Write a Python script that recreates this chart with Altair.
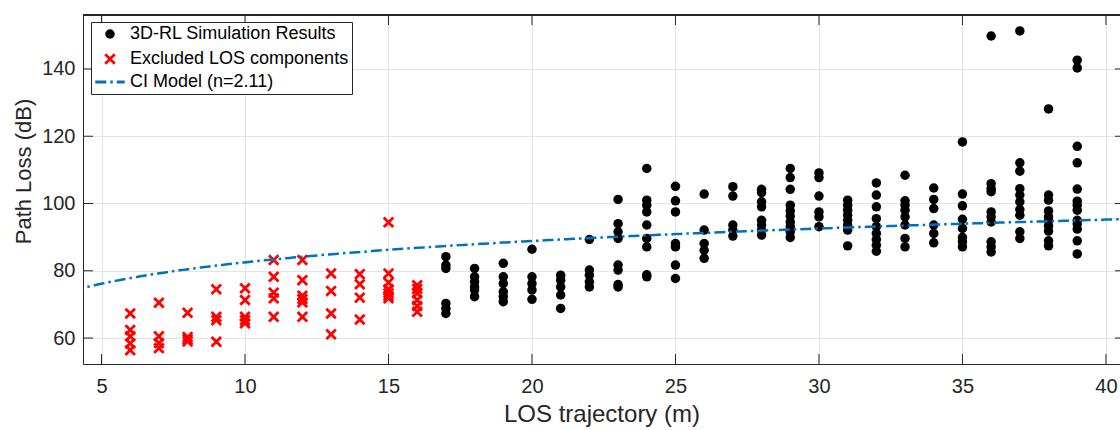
import altair as alt
import numpy as np
import pandas as pd

# --- 3D ray-launching simulation: path loss samples per LOS distance -------
sim_distances = list(range(17, 40))
sim_path_loss = [
    [84.2, 81.7, 80.7, 70.3, 68.8, 67.3],                                   # 17 m
    [80.7, 78.2, 76.7, 75.2, 74.3, 72.3],                                   # 18 m
    [82.2, 78.2, 76.2, 73.7, 72.3, 70.8],                                   # 19 m
    [86.4, 78.2, 76.2, 74.3, 71.5],                                         # 20 m
    [78.7, 77.2, 75.2, 72.8, 68.8],                                         # 21 m
    [89.3, 80.2, 78.7, 76.7, 75.2],                                         # 22 m
    [101.2, 94.0, 91.6, 89.6, 81.7, 80.2, 75.9, 75.2],                      # 23 m
    [110.4, 101.0, 99.5, 97.5, 93.6, 89.6, 87.1, 78.8, 78.2],               # 24 m
    [105.1, 100.8, 97.5, 88.1, 87.1, 81.7, 77.7],                           # 25 m
    [102.8, 92.1, 88.1, 86.1, 83.7],                                        # 26 m
    [105.0, 102.2, 93.6, 92.1, 90.3],                                       # 27 m
    [104.2, 103.2, 100.5, 99.0, 95.0, 93.6, 92.1, 90.6],                    # 28 m
    [110.4, 107.7, 104.2, 99.5, 97.8, 96.2, 94.5, 93.1, 91.6, 89.9],        # 29 m
    [109.1, 107.7, 102.2, 97.5, 96.0, 93.1],                                # 30 m
    [101.0, 99.5, 98.0, 96.5, 95.0, 93.6, 92.1, 87.4],                      # 31 m
    [106.1, 102.5, 99.0, 95.5, 93.1, 91.1, 89.3, 87.6, 85.8],               # 32 m
    [108.4, 100.8, 99.5, 98.0, 96.0, 93.6, 89.6, 87.1],                     # 33 m
    [104.6, 101.2, 98.5, 93.6, 91.1, 88.3],                                 # 34 m
    [118.3, 102.8, 99.3, 95.3, 92.6, 89.9, 88.6, 87.1],                     # 35 m
    [149.8, 105.9, 104.4, 103.5, 97.5, 96.0, 94.5, 88.6, 87.1, 85.6],       # 36 m
    [151.3, 112.1, 109.6, 104.4, 102.5, 100.5, 98.2, 96.5, 91.6, 89.6],     # 37 m
    [128.1, 102.5, 101.0, 97.8, 96.0, 94.8, 93.3, 91.8, 88.9, 87.4],        # 38 m
    [142.6, 140.3, 117.0, 112.1, 104.3, 100.7, 99.5, 98.0, 95.0, 93.9,
     92.4, 88.9, 85.0],                                                     # 39 m
]

# --- LOS components left out of the fit -------------------------------------
excl_distances = list(range(6, 17))
excl_path_loss = [
    [67.3, 62.4, 60.5, 58.4, 56.4],                   # 6 m
    [70.5, 60.5, 58.5, 57.0],                         # 7 m
    [67.5, 60.3, 59.6, 59.0],                         # 8 m
    [74.5, 66.3, 65.3, 58.9],                         # 9 m
    [74.8, 71.3, 66.3, 65.3, 64.4],                   # 10 m
    [83.2, 78.2, 73.5, 71.8, 66.3],                   # 11 m
    [83.2, 77.2, 72.6, 71.6, 70.6, 66.3],             # 12 m
    [79.2, 74.0, 67.3, 61.1],                         # 13 m
    [79.0, 76.0, 72.0, 65.5],                         # 14 m
    [94.4, 79.2, 76.5, 74.5, 73.3, 72.5, 71.8],       # 15 m
    [75.7, 74.6, 73.3, 71.3, 69.5, 67.8],             # 16 m
]

# --- close-in (CI) reference-distance model ---------------------------------
fspl_1m = 61.4      # free-space path loss at 1 m (dB)
ple_n = 2.11        # path loss exponent

x_ticks = [5, 10, 15, 20, 25, 30, 35, 40]
y_ticks = [60, 80, 100, 120, 140]

series_names = ["3D-RL Simulation Results", "Excluded LOS components",
                f"CI Model (n={ple_n})"]
series_fill = ["#000000", "transparent", "transparent"]
series_stroke = ["transparent", "#ff0000", "#0072bd"]
series_shape = ["circle", "M-1,-1L1,1M-1,1L1,-1", "M-3.1,0L3.1,0"]
ci_dash = [11, 4, 2.5, 4]
series_dash = [[1, 0], [1, 0], ci_dash]

W, H = 1037, 349
X_DOMAIN = [4.355, 40.49]
Y_DOMAIN = [52.28, 156.04]
INK = "#262626"
FONT = "Liberation Sans"

# ---------------------------------------------------------------------------
rows = []
for d, vals in zip(sim_distances, sim_path_loss):
    rows += [{"d": d, "pl": v, "series": series_names[0]} for v in vals]
for d, vals in zip(excl_distances, excl_path_loss):
    rows += [{"d": d, "pl": v, "series": series_names[1]} for v in vals]
points = pd.DataFrame(rows)

d_grid = np.linspace(4.0, 41.0, 300)
model = pd.DataFrame({"d": d_grid, "pl": fspl_1m + 10 * ple_n * np.log10(d_grid)})

xs = alt.Scale(domain=X_DOMAIN, nice=False, zero=False)
ys = alt.Scale(domain=Y_DOMAIN, nice=False, zero=False)

legend = alt.Legend(
    title=None, orient="none", legendX=8, legendY=7,
    padding=3, rowPadding=3, labelFontSize=18, labelFont=FONT,
    labelColor="#000000", strokeColor=INK, fillColor="white",
    symbolSize=90, symbolStrokeWidth=2.8, labelOffset=11, symbolOffset=7,
    cornerRadius=0, labelLimit=400,
)

x_axis = alt.Axis(
    values=x_ticks, format="d", title="LOS trajectory (m)",
    labelFontSize=20, labelFont=FONT, labelColor=INK, labelPadding=12,
    ticks=False, tickSize=0, domainColor=INK, domainWidth=1,
    grid=True, gridColor="#e3e3e3", gridWidth=1,
    titleFontSize=24, titleFont=FONT, titleFontWeight="normal",
    titleColor=INK, titlePadding=6,
)
y_axis = alt.Axis(
    values=y_ticks, format="d", title="Path Loss (dB)",
    labelFontSize=20, labelFont=FONT, labelColor=INK, labelPadding=8,
    ticks=False, tickSize=0, domainColor=INK, domainWidth=1,
    grid=True, gridColor="#e3e3e3", gridWidth=1,
    titleFontSize=22, titleFont=FONT, titleFontWeight="normal",
    titleColor=INK, titleX=-60, titleY=156, titleAngle=-90,
    titleBaseline="middle", titleAlign="center",
)

scatter = alt.Chart(points).mark_point(
    filled=True, opacity=1, size=90, strokeWidth=2.8
).encode(
    x=alt.X("d:Q", scale=xs, axis=x_axis),
    y=alt.Y("pl:Q", scale=ys, axis=y_axis),
    fill=alt.Fill("series:N", scale=alt.Scale(domain=series_names, range=series_fill), legend=legend),
    stroke=alt.Stroke("series:N", scale=alt.Scale(domain=series_names, range=series_stroke), legend=legend),
    shape=alt.Shape("series:N", scale=alt.Scale(domain=series_names, range=series_shape), legend=legend),
    strokeDash=alt.StrokeDash("series:N", scale=alt.Scale(domain=series_names, range=series_dash), legend=legend),
)

ci_line = alt.Chart(model).mark_line(
    clip=True, color="#0072bd", strokeWidth=2.5, strokeDash=ci_dash
).encode(
    x=alt.X("d:Q", scale=xs, axis=x_axis),
    y=alt.Y("pl:Q", scale=ys, axis=y_axis),
)

# inward tick marks on all four sides of the box, plus the top edge
xt = pd.DataFrame({"d": x_ticks})
yt = pd.DataFrame({"pl": y_ticks})
tick_style = dict(color=INK, strokeWidth=1)
ticks_bottom = alt.Chart(xt).mark_rule(**tick_style).encode(
    x=alt.X("d:Q", scale=xs, axis=x_axis), y=alt.value(H), y2=alt.value(H - 10))
ticks_top = alt.Chart(xt).mark_rule(**tick_style).encode(
    x=alt.X("d:Q", scale=xs, axis=x_axis), y=alt.value(0), y2=alt.value(10))
ticks_left = alt.Chart(yt).mark_rule(**tick_style).encode(
    y=alt.Y("pl:Q", scale=ys, axis=y_axis), x=alt.value(0), x2=alt.value(10))
ticks_right = alt.Chart(yt).mark_rule(**tick_style).encode(
    y=alt.Y("pl:Q", scale=ys, axis=y_axis), x=alt.value(W - 5), x2=alt.value(W))
top_edge = alt.Chart(xt).mark_rule(color=INK, strokeWidth=1).encode(
    x=alt.value(0), x2=alt.value(W), y=alt.value(0))

chart = alt.layer(
    scatter, ci_line, ticks_bottom, ticks_top, ticks_left, ticks_right, top_edge
).properties(
    width=W, height=H,
    autosize=alt.AutoSizeParams(type="none"),
    padding={"left": 83, "top": 15, "right": 0, "bottom": 66},
    background="white",
).configure_view(stroke=None)

chart.save("out.html", embed_options={"renderer": "svg", "actions": False})
